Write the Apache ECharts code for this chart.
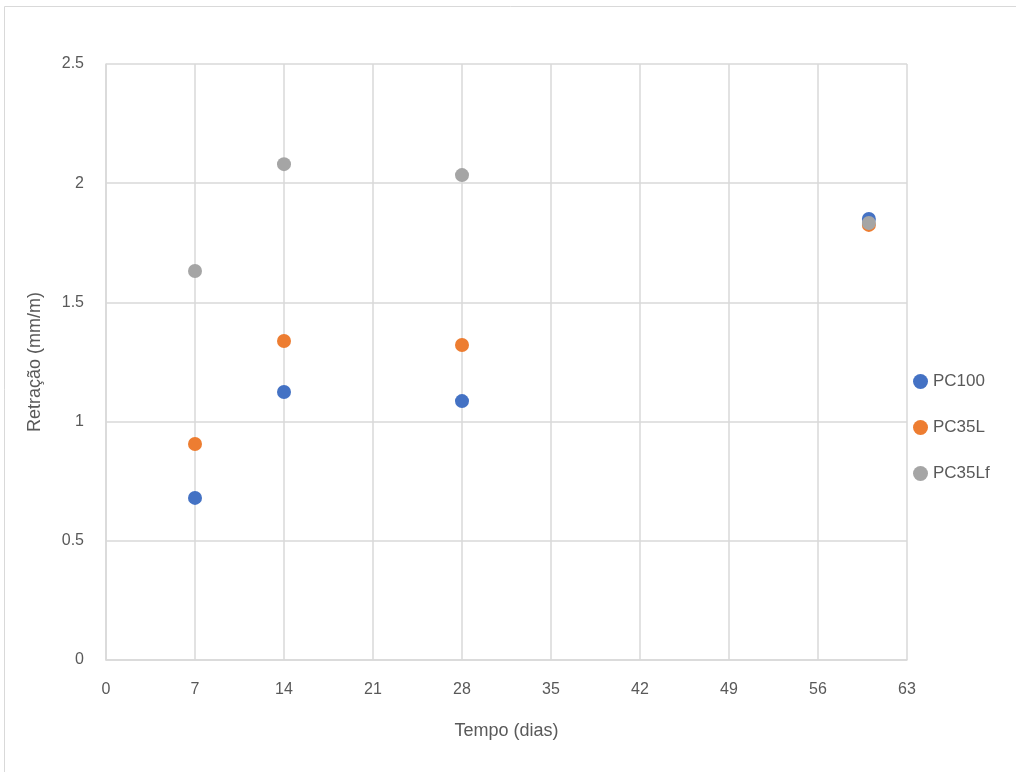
<!DOCTYPE html>
<html><head><meta charset="utf-8">
<script src="https://cdn.jsdelivr.net/npm/echarts@6/dist/echarts.min.js"></script>
<style>html,body{margin:0;padding:0;background:#fff}#c{width:1016px;height:772px}</style>
</head><body><div id="c"></div>
<script>
const days = [7, 14, 28, 60];
const seriesNames = ['PC100', 'PC35L', 'PC35Lf'];
const pc100 = [0.68, 1.124, 1.086, 1.85];
const pc35l = [0.906, 1.338, 1.321, 1.825];
const pc35lf = [1.632, 2.08, 2.034, 1.833];
const colors = ['#4472C4', '#ED7D31', '#A5A5A5'];
const values = [pc100, pc35l, pc35lf];
const font = 'Liberation Sans';
const chart = echarts.init(document.getElementById('c'));
chart.setOption({
  animation: false,
  textStyle: {fontFamily: font},
  graphic: [{type: 'rect', shape: {x: 4.5, y: 6.5, width: 1100, height: 900},
    style: {fill: 'none', stroke: '#d9d9d9', lineWidth: 1}, silent: true}],
  grid: {left: 106, right: 109, top: 64, bottom: 112},
  legend: {orient: 'vertical', left: 913, top: 373, padding: 0, itemGap: 29, itemWidth: 15, itemHeight: 15,
    icon: 'circle', data: seriesNames,
    textStyle: {fontSize: 17, color: '#595959', fontFamily: font}},
  xAxis: {type: 'value', min: 0, max: 63, interval: 7,
    name: 'Tempo (dias)', nameLocation: 'middle', nameGap: 62,
    nameTextStyle: {fontSize: 18, color: '#595959', fontFamily: font},
    axisLine: {lineStyle: {color: '#d9d9d9', width: 1.5}},
    axisTick: {show: false},
    axisLabel: {fontSize: 16, color: '#595959', margin: 22, fontFamily: font},
    splitLine: {show: true, lineStyle: {color: '#d9d9d9', width: 1.5}}},
  yAxis: {type: 'value', min: 0, max: 2.5, interval: 0.5,
    name: 'Retração (mm/m)', nameLocation: 'middle', nameGap: 62,
    nameTextStyle: {fontSize: 18, color: '#595959', fontFamily: font},
    axisLine: {show: true, lineStyle: {color: '#d9d9d9', width: 1.5}},
    axisTick: {show: false},
    axisLabel: {fontSize: 16, color: '#595959', margin: 22, fontFamily: font,
      formatter: v => String(v)},
    splitLine: {show: true, lineStyle: {color: '#d9d9d9', width: 1.5}}},
  series: seriesNames.map((n, i) => ({
    name: n, type: 'scatter', symbolSize: 14,
    itemStyle: {color: colors[i], opacity: 1},
    data: days.map((d, j) => [d, values[i][j]])
  }))
});
</script></body></html>
